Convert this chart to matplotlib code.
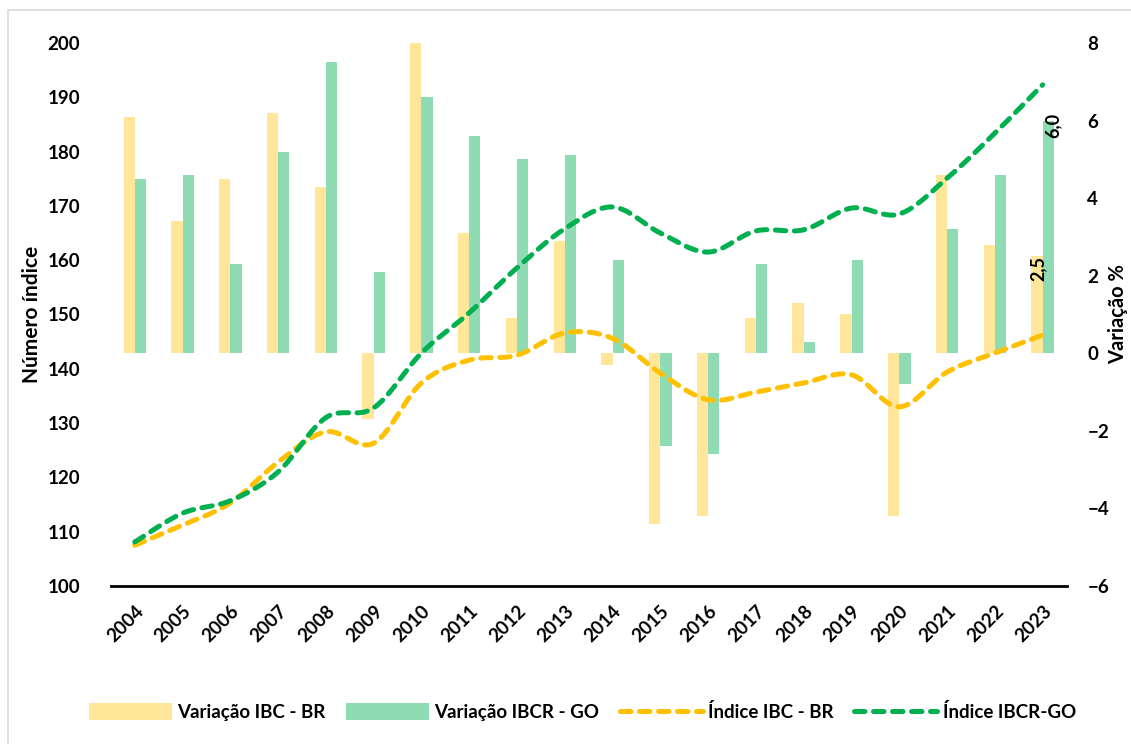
import numpy as np
import matplotlib
matplotlib.use("Agg")
import matplotlib.pyplot as plt
from matplotlib.patches import Rectangle

plt.rcParams['font.family'] = ['Lato', 'DejaVu Sans']
plt.rcParams['font.weight'] = 'bold'

years = [str(y) for y in range(2004, 2024)]
var_br = [6.1, 3.4, 4.5, 6.2, 4.3, -1.7, 8.0, 3.1, 0.9, 2.9,
          -0.3, -4.4, -4.2, 0.9, 1.3, 1.0, -4.2, 4.6, 2.8, 2.5]
var_go = [4.5, 4.6, 2.3, 5.2, 7.5, 2.1, 6.6, 5.6, 5.0, 5.1,
          2.4, -2.4, -2.6, 2.3, 0.3, 2.4, -0.8, 3.2, 4.6, 6.0]
idx_br = [107.5, 111.2, 115.3, 122.8, 128.4, 126.3, 137.4, 141.6, 142.5, 146.6,
          145.6, 139.2, 134.3, 135.7, 137.4, 138.9, 133.0, 139.4, 142.9, 146.2]
idx_go = [108.1, 113.4, 115.7, 121.0, 131.0, 132.8, 142.9, 150.3, 158.6, 165.8,
          169.8, 165.0, 161.5, 165.4, 165.6, 169.6, 168.5, 175.1, 183.4, 192.3]

c_bar_br = "#FFE699"
c_bar_go = "#8FDCB4"
c_line_br = "#FFC000"
c_line_go = "#00B050"


def smooth(x, y, n=24):
    # catmull-rom, close to excel's "smoothed line"
    x = np.asarray(x, float)
    y = np.asarray(y, float)
    px = np.r_[x[0], x, x[-1]]
    py = np.r_[y[0], y, y[-1]]
    xs, ys = [], []
    t = np.linspace(0, 1, n, endpoint=False)
    for i in range(len(x) - 1):
        for p, out in ((px, xs), (py, ys)):
            p0, p1, p2, p3 = p[i], p[i + 1], p[i + 2], p[i + 3]
            out.append(0.5 * (2 * p1 + (-p0 + p2) * t
                              + (2 * p0 - 5 * p1 + 4 * p2 - p3) * t ** 2
                              + (-p0 + 3 * p1 - 3 * p2 + p3) * t ** 3))
    xs.append([x[-1]])
    ys.append([y[-1]])
    return np.concatenate(xs), np.concatenate(ys)


fig = plt.figure(figsize=(11.31, 7.44), dpi=100)
ax = fig.add_axes([0.098, 0.2124, 0.845, 0.7298])
ax2 = ax.twinx()
ax.set_zorder(ax2.get_zorder() + 1)
ax.patch.set_visible(False)

x = np.arange(len(years))
w = 0.235
ax2.bar(x - w / 2, var_br, w, color=c_bar_br, label="Variação IBC - BR")
ax2.bar(x + w / 2, var_go, w, color=c_bar_go, label="Variação IBCR - GO")
ax2.text(x[-1] - w / 2 + 0.03, var_br[-1] + 0.02, "2,5", rotation=90,
         ha='center', va='top', fontsize=13, fontweight='bold')
ax2.text(x[-1] + w / 2 + 0.1, var_go[-1] + 0.2, "6,0", rotation=90,
         ha='center', va='top', fontsize=13, fontweight='bold')

sx, sy = smooth(x, idx_br)
ax.plot(sx, sy, color=c_line_br, lw=3.6, dashes=(2.1, 1.7),
        dash_capstyle='round', label="Índice IBC - BR")
sx, sy = smooth(x, idx_go)
ax.plot(sx, sy, color=c_line_go, lw=3.6, dashes=(2.1, 1.7),
        dash_capstyle='round', label="Índice IBCR-GO")

ax.set_xlim(-0.5, len(years) - 0.5)
ax.set_ylim(100, 200)
ax.set_yticks(range(100, 201, 10))
ax2.set_ylim(-6, 8)
ax2.set_yticks(range(-6, 9, 2))
ax.set_xticks(x)
ax.set_xticklabels(years, rotation=45, ha='right', rotation_mode='anchor')

for a in (ax, ax2):
    for s in a.spines.values():
        s.set_visible(False)
    a.tick_params(length=0, labelsize=13.5)
ax.spines['bottom'].set_visible(True)
ax.spines['bottom'].set_linewidth(2)
ax.spines['bottom'].set_color('black')
ax.tick_params(axis='x', pad=12, labelsize=13.5)
ax.tick_params(axis='y', pad=22)
ax2.tick_params(axis='y', pad=15)

ax.set_ylabel("Número índice", fontsize=15, fontweight='bold', labelpad=4)
ax2.set_ylabel("Variação %", fontsize=14.5, fontweight='bold', labelpad=-1)

h1, l1 = ax2.get_legend_handles_labels()
h2, l2 = ax.get_legend_handles_labels()
fig.legend(h1 + h2, l1 + l2, loc='center', bbox_to_anchor=(0.515, 1 - 712 / 744),
           ncol=4, frameon=False, fontsize=13.5, handlelength=4.4,
           handleheight=1.0, handletextpad=0.3, columnspacing=1.1)

fig.patches.append(Rectangle((8 / 1131, -0.1), 1.2, 1.1 - 10 / 744,
                             transform=fig.transFigure, fill=False,
                             edgecolor='#d9d9d9', lw=1.2, clip_on=False))

fig.savefig("out.png", dpi=100)
